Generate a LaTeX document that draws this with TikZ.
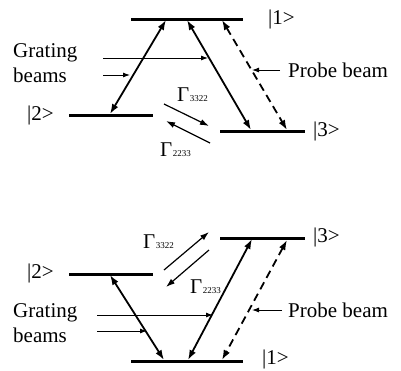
\documentclass[tikz,border=0pt]{standalone}
\usepackage{fontspec}
\setmainfont{Liberation Serif}
\usetikzlibrary{arrows.meta}
\begin{document}
\begin{tikzpicture}[x=1pt,y=-1pt,
 level/.style={line width=3pt},
 trans/.style={line width=1.8pt,{Latex[length=10pt,width=7pt]}-{Latex[length=10pt,width=7pt]}},
 probe/.style={trans,dash pattern=on 8pt off 5pt},
 beam/.style={line width=0.9pt,-{Latex[length=7pt,width=5pt]}},
 decay/.style={line width=1.2pt,-{Latex[length=9pt,width=6pt]}},
 txt/.style={font=\fontsize{21}{24}\selectfont, inner sep=0pt},
 gam/.style={font=\fontsize{21}{24}\selectfont, inner sep=0pt}]
\useasboundingbox (0,0) rectangle (401,370);
\newcommand{\gsub}[1]{Γ\kern0.5pt{\fontsize{9}{9}\selectfont #1}}
% ---------- top diagram ----------
\coordinate (t1a) at (131,19); \coordinate (t1b) at (243,19);
\coordinate (t2a) at (69,115); \coordinate (t2b) at (153,115);
\coordinate (t3a) at (220,131); \coordinate (t3b) at (305,131);
\draw[level] (t1a) -- (t1b);
\draw[level] (t2a) -- (t2b);
\draw[level] (t3a) -- (t3b);
\node[txt,anchor=west] (tl1) at (268,19) {|1>};
\node[txt,anchor=west] (tl2) at (27,115) {|2>};
\node[txt,anchor=west] (tl3) at (313,131) {|3>};
\coordinate (tA1) at (110,114); \coordinate (tA2) at (166,20);
\coordinate (tB1) at (187,20); \coordinate (tB2) at (251,130);
\coordinate (tC1) at (222,20); \coordinate (tC2) at (287,130);
\draw[trans] (tA1) -- (tA2);
\draw[trans] (tB1) -- (tB2);
\draw[probe] (tC1) -- (tC2);
\node[txt,anchor=base west] (tg1) at (13,57) {Grating};
\node[txt,anchor=base west] (tg2) at (13,82) {beams};
\coordinate (tgb1) at (103,58); \coordinate (tge1) at (208,58);
\coordinate (tgb2) at (103,75); \coordinate (tge2) at (130,75);
\draw[beam] (tgb1) -- (tge1);
\draw[beam] (tgb2) -- (tge2);
\node[txt,anchor=base west] (tpb) at (288,77) {Probe beam};
\coordinate (tpe) at (252,70);
\draw[beam] (tpb.west |- tpe) ++(-8,0) coordinate (tps) -- (tpe);
\coordinate (td1a) at (164,104); \coordinate (td1b) at (209,126);
\coordinate (td2a) at (210,143); \coordinate (td2b) at (166,121);
\draw[decay] (td1a) -- (td1b);
\draw[decay] (td2a) -- (td2b);
\node[gam,anchor=base west] (tG1) at (177,101) {\gsub{3322}};
\node[gam,anchor=base west] (tG2) at (160,156) {\gsub{2233}};
% ---------- bottom diagram ----------
\coordinate (b3a) at (220,238); \coordinate (b3b) at (305,238);
\coordinate (b2a) at (69,274); \coordinate (b2b) at (153,274);
\coordinate (b1a) at (131,361); \coordinate (b1b) at (243,361);
\draw[level] (b1a) -- (b1b);
\draw[level] (b2a) -- (b2b);
\draw[level] (b3a) -- (b3b);
\node[txt,anchor=west] (bl3) at (313,237) {|3>};
\node[txt,anchor=west] (bl2) at (27,273) {|2>};
\node[txt,anchor=west] (bl1) at (262,359) {|1>};
\coordinate (bA1) at (110,275); \coordinate (bA2) at (164,360);
\coordinate (bB1) at (252,239); \coordinate (bB2) at (188,360);
\coordinate (bC1) at (287,240); \coordinate (bC2) at (222,360);
\draw[trans] (bA1) -- (bA2);
\draw[trans] (bB1) -- (bB2);
\draw[probe] (bC1) -- (bC2);
\node[txt,anchor=base west] (bg1) at (13,317) {Grating};
\node[txt,anchor=base west] (bg2) at (13,342) {beams};
\coordinate (bgb1) at (97,315); \coordinate (bge1) at (213,315);
\coordinate (bgb2) at (97,331); \coordinate (bge2) at (147,331);
\draw[beam] (bgb1) -- (bge1);
\draw[beam] (bgb2) -- (bge2);
\node[txt,anchor=base west] (bpb) at (288,317) {Probe beam};
\coordinate (bpe) at (252,310);
\draw[beam] (bpb.west |- bpe) ++(-6,0) coordinate (bps) -- (bpe);
\coordinate (bd1a) at (164,270); \coordinate (bd1b) at (209,232);
\coordinate (bd2a) at (209,250); \coordinate (bd2b) at (166,287);
\draw[decay] (bd1a) -- (bd1b);
\draw[decay] (bd2a) -- (bd2b);
\node[gam,anchor=base west] (bG1) at (143,248) {\gsub{3322}};
\node[gam,anchor=base west] (bG2) at (190,293) {\gsub{2233}};
\end{tikzpicture}
\end{document}
